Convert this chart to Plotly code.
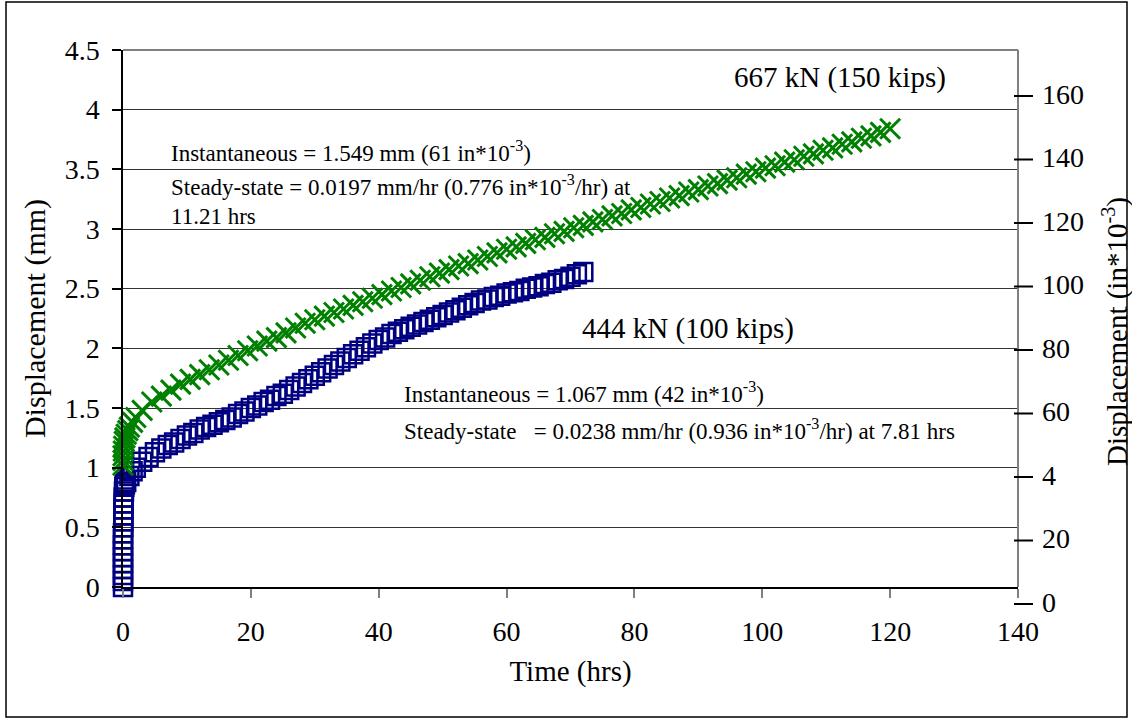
import plotly.graph_objects as go

# ---------------- data ----------------
# 444 kN (100 kips) series  (time in hrs, displacement in mm)
t_444 = [0.0, 0.0, 0.0, 0.0, 0.0, 0.0, 0.0, 0.0, 0.0, 0.0, 0.05, 0.05, 0.05, 0.05, 0.1, 0.1, 0.15, 0.2,
         0.3, 0.5, 1, 1.5, 2, 3, 4, 5, 6, 7, 8, 9, 10, 11, 12, 13, 14, 15, 16, 17, 18, 19, 20,
         21, 22, 23, 24, 25, 26, 27, 28, 29, 30, 31, 32, 33, 34, 35, 36, 37, 38, 39, 40,
         41, 42, 43, 44, 45, 46, 47, 48, 49, 50, 51, 52, 53, 54, 55, 56, 57, 58, 59, 60,
         61, 62, 63, 64, 65, 66, 67, 68, 69, 70, 71, 72]
d_444 = [0.0, 0.05, 0.1, 0.15, 0.2, 0.25, 0.3, 0.35, 0.4, 0.45, 0.5, 0.55, 0.6, 0.65, 0.7, 0.75, 0.8, 0.84,
         0.86, 0.88, 0.93, 0.97, 1.00, 1.05, 1.09, 1.13, 1.16, 1.19, 1.21, 1.24, 1.27, 1.29, 1.32, 1.34, 1.36, 1.38, 1.40, 1.42, 1.45, 1.47, 1.50,
         1.52, 1.55, 1.57, 1.60, 1.62, 1.65, 1.68, 1.71, 1.74, 1.77, 1.80, 1.83, 1.86, 1.89, 1.92, 1.95, 1.98, 2.01, 2.04, 2.07,
         2.09, 2.12, 2.14, 2.16, 2.18, 2.20, 2.22, 2.24, 2.26, 2.28, 2.30, 2.32, 2.34, 2.36, 2.38, 2.40, 2.41, 2.43, 2.44, 2.46,
         2.47, 2.48, 2.50, 2.51, 2.52, 2.54, 2.55, 2.57, 2.58, 2.60, 2.62, 2.64]

# 667 kN (150 kips) series
t_667 = [0.0, 0.0, 0.0, 0.05, 0.1, 0.2, 0.3, 0.5, 0.75, 1, 1.5, 2, 3, 4.5, 6, 7.5, 9, 10.5, 12, 13.5, 15,
         16.5, 18, 19.5, 21, 22.5, 24, 25.5, 27, 28.5, 30, 31.5, 33, 34.5, 36, 37.5, 39, 40.5, 42,
         43.5, 45, 46.5, 48, 49.5, 51, 52.5, 54, 55.5, 57, 58.5, 60, 61.5, 63, 64.5, 66, 67.5, 69,
         70.5, 72, 73.5, 75, 76.5, 78, 79.5, 81, 82.5, 84, 85.5, 87, 88.5, 90, 91.5, 93, 94.5, 96,
         97.5, 99, 100.5, 102, 103.5, 105, 106.5, 108, 109.5, 111, 112.5, 114, 115.5, 117, 118.5, 120]
d_667 = [1.02, 1.06, 1.10, 1.14, 1.18, 1.22, 1.25, 1.28, 1.31, 1.34, 1.38, 1.42, 1.48, 1.55, 1.60, 1.65, 1.70, 1.74, 1.78, 1.82, 1.86,
         1.90, 1.94, 1.98, 2.02, 2.06, 2.09, 2.13, 2.17, 2.21, 2.24, 2.27, 2.30, 2.33, 2.36, 2.39, 2.42, 2.45, 2.48,
         2.51, 2.54, 2.57, 2.60, 2.63, 2.66, 2.69, 2.71, 2.74, 2.77, 2.80, 2.83, 2.85, 2.88, 2.91, 2.93, 2.96, 2.98,
         3.01, 3.03, 3.06, 3.08, 3.11, 3.13, 3.16, 3.18, 3.21, 3.23, 3.26, 3.28, 3.31, 3.33, 3.36, 3.38, 3.41, 3.43,
         3.46, 3.48, 3.51, 3.53, 3.56, 3.58, 3.61, 3.63, 3.66, 3.68, 3.71, 3.73, 3.76, 3.78, 3.81, 3.84]

# secondary (imperial) scale, typed as text in the original
right_tick_values = [0, 20, 40, 60, 80, 100, 120, 140, 160]
right_tick_labels = ["0", "20", "4", "60", "80", "100", "120", "140", "160"]

# ---------------- figure ----------------
FONT = "Liberation Serif, Times New Roman, serif"
W, H = 1132, 719
L, R, T, B = 123, 1018, 50, 587
PW, PH = R - L, B - T


def px(xp):
    return (xp - L) / PW


def py(yp):
    return (B - yp) / PH


fig = go.Figure()
fig.add_trace(go.Scatter(
    x=t_444, y=d_444, mode="markers", name="444 kN (100 kips)",
    marker=dict(symbol="square-open", size=18, color="#000080",
                line=dict(color="#000080", width=2.5)),
    cliponaxis=False, showlegend=False))
fig.add_trace(go.Scatter(
    x=t_667, y=d_667, mode="markers", name="667 kN (150 kips)",
    marker=dict(symbol="x-thin-open", size=20, color="#008000",
                line=dict(color="#008000", width=3)),
    cliponaxis=False, showlegend=False))

shapes = []
# outer border
shapes.append(dict(type="rect", xref="paper", yref="paper",
                   x0=px(6), x1=px(1127), y0=py(717), y1=py(2),
                   line=dict(color="black", width=1.5), layer="below"))
# top and right frame (gray)
shapes.append(dict(type="line", xref="paper", yref="paper", x0=0, x1=1, y0=1, y1=1,
                   line=dict(color="#808080", width=2)))
shapes.append(dict(type="line", xref="paper", yref="paper", x0=1, x1=1, y0=0, y1=1,
                   line=dict(color="#808080", width=2)))

annotations = []
# fake right-hand scale (text typed in the original chart)
y0_px, step_px = 602, 508 / 160
for v, lab in zip(right_tick_values, right_tick_labels):
    yc = y0_px - v * step_px
    shapes.append(dict(type="line", xref="paper", yref="paper",
                       x0=px(1014), x1=px(1033), y0=py(yc + 2), y1=py(yc + 2),
                       line=dict(color="black", width=2)))
    annotations.append(dict(text=lab, xref="paper", yref="paper", x=px(1040), y=py(yc),
                            xanchor="left", yanchor="middle", showarrow=False,
                            font=dict(family=FONT, size=28, color="black")))

annotations.append(dict(text="Displacement (in*10<sup>-3</sup>)", xref="paper", yref="paper",
                        x=px(1115), y=py(332), textangle=-90, xanchor="center", yanchor="middle",
                        showarrow=False, font=dict(family=FONT, size=29, color="black")))


def note(text, xp, yp, size, anchor="left"):
    annotations.append(dict(text=text, xref="paper", yref="paper", x=px(xp), y=py(yp),
                            xanchor=anchor, yanchor="middle", showarrow=False,
                            font=dict(family=FONT, size=size, color="black")))


note("667 kN (150 kips)", 840, 78, 29, "center")
note("Instantaneous = 1.549 mm (61 in*10<sup>-3</sup>)", 169, 151, 23)
note("Steady-state = 0.0197 mm/hr (0.776 in*10<sup>-3</sup>/hr) at", 169, 186, 23)
note("11.21 hrs", 169, 217, 23)
note("444 kN (100 kips)", 688, 328, 29, "center")
note("Instantaneous = 1.067 mm (42 in*10<sup>-3</sup>)", 402, 392, 23)
note("Steady-state\u00a0\u00a0 = 0.0238 mm/hr (0.936 in*10<sup>-3</sup>/hr) at 7.81 hrs", 402, 429, 23)

fig.update_layout(
    width=W, height=H,
    margin=dict(l=L, r=W - R, t=T, b=H - B, pad=0),
    paper_bgcolor="white", plot_bgcolor="white",
    font=dict(family=FONT, color="black"),
    shapes=shapes, annotations=annotations,
    showlegend=False,
    xaxis=dict(range=[0, 140], dtick=20, tick0=0, showgrid=False, zeroline=False,
               showline=True, linecolor="black", linewidth=1.5,
               ticks="outside", ticklen=9, tickwidth=1.5, tickcolor="#808080",
               tickfont=dict(family=FONT, size=28), ticklabelstandoff=10,
               title=dict(text="Time (hrs)", font=dict(family=FONT, size=29), standoff=14)),
    yaxis=dict(range=[0, 4.5], dtick=0.5, tick0=0, showgrid=True, gridcolor="#333333", gridwidth=1,
               zeroline=False, showline=True, linecolor="black", linewidth=1.5,
               ticks="outside", ticklen=9, tickwidth=1.5, tickcolor="black",
               tickfont=dict(family=FONT, size=28), ticklabelstandoff=7,
               title=dict(text="Displacement (mm)", font=dict(family=FONT, size=30), standoff=10)),
)

fig.write_html("out.html", config={"displayModeBar": False},
               post_script="document.body.style.margin='0';document.body.style.overflow='hidden';")
